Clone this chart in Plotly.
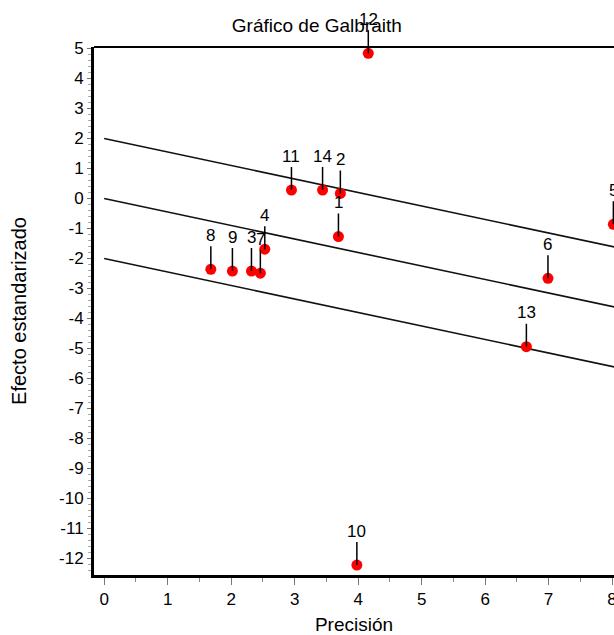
import plotly.graph_objects as go

# ---- data ----
study_labels = ["1", "2", "3", "4", "5", "6", "7", "8", "9", "10", "11", "12", "13", "14"]
precision = [3.69, 3.72, 2.32, 2.53, 8.02, 6.99, 2.46, 1.68, 2.02, 3.98, 2.95, 4.16, 6.65, 3.44]
std_effect = [-1.27, 0.17, -2.42, -1.69, -0.86, -2.66, -2.49, -2.36, -2.42, -12.22, 0.28, 4.84, -4.94, 0.28]
pooled_slope = -0.45
band_intercepts = [2, 0, -2]
line_x = [0, 8.6]
x_ticks = list(range(0, 9))
y_ticks = list(range(-12, 6))
x_ticktext = [str(v) for v in x_ticks]
y_ticktext = [str(v) for v in y_ticks]

FONT = "Liberation Sans, Arial, sans-serif"

fig = go.Figure()

for b in band_intercepts:
    fig.add_trace(go.Scatter(
        x=line_x, y=[b + pooled_slope * x for x in line_x],
        mode="lines", line=dict(color="#111111", width=1.6),
        showlegend=False, hoverinfo="skip"))

fig.add_trace(go.Scatter(
    x=precision, y=std_effect, mode="markers",
    marker=dict(color="#ff0000", size=11, symbol="circle", line=dict(width=0)),
    showlegend=False))

for xv, yv, lab in zip(precision, std_effect, study_labels):
    fig.add_annotation(
        x=xv, y=yv, text=lab, showarrow=True, arrowhead=0, arrowwidth=1.5,
        arrowcolor="#000000", ax=0, ay=-34, standoff=0,
        font=dict(family=FONT, size=17, color="#000000"))

fig.update_layout(
    width=614, height=635,
    margin=dict(l=94, r=0, t=47, b=60, autoexpand=False),
    paper_bgcolor="white", plot_bgcolor="white",
    font=dict(family=FONT, size=17, color="#000000"),
    title=dict(text="Gráfico de Galbraith", x=0.516, xanchor="center",
               y=1 - 25 / 635, yanchor="middle",
               font=dict(family=FONT, size=19, color="#000000")),
    showlegend=False,
)

fig.update_xaxes(
    range=[-0.16, 8.03], showgrid=False, zeroline=False, automargin=False,
    showline=True, linecolor="#000000", linewidth=3,
    tickmode="array", tickvals=x_ticks, ticktext=x_ticktext,
    ticklabeloverflow="allow",
    ticks="outside", ticklen=7, tickwidth=1, tickcolor="#777777",
    minor=dict(dtick=0.5, ticks="outside", ticklen=4, tickcolor="#888888", showgrid=False),
    tickfont=dict(family=FONT, size=17, color="#000000"),
    title=dict(text="Precisión", font=dict(family=FONT, size=19, color="#000000"), standoff=10),
)

fig.update_yaxes(
    range=[-12.55, 5.05], showgrid=False, zeroline=False, automargin=False,
    showline=True, linecolor="#000000", linewidth=3,
    tickmode="array", tickvals=y_ticks, ticktext=y_ticktext,
    ticks="outside", ticklen=4, tickwidth=1, tickcolor="#777777",
    minor=dict(dtick=0.2, ticks="outside", ticklen=3, tickcolor="#aaaaaa", showgrid=False),
    tickfont=dict(family=FONT, size=17, color="#000000"),
    title=dict(text="Efecto estandarizado", font=dict(family=FONT, size=20, color="#000000"), standoff=28),
)

# top frame line
fig.add_shape(type="line", xref="paper", yref="paper", x0=0, x1=1, y0=1, y1=1,
              line=dict(color="#000000", width=2))

fig.write_html("out.html")
